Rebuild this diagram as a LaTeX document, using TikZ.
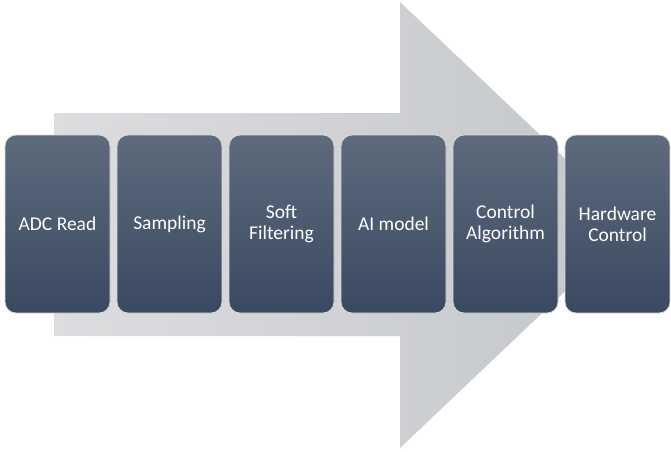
\documentclass[tikz,border=0pt]{standalone}
\usepackage{fontspec}
\setmainfont{Carlito}
\usetikzlibrary{shadings}
\definecolor{boxtop}{HTML}{5D6B7C}
\definecolor{boxbot}{HTML}{3A4961}
\definecolor{arrL}{HTML}{DCDDDF}
\definecolor{arrR}{HTML}{C3C6CA}
\begin{document}
\begin{tikzpicture}[x=1pt,y=-1pt,
  stage/.style={rectangle, rounded corners=11pt, minimum width=105pt, minimum height=178pt,
    top color=boxtop, bottom color=boxbot, draw=white!75!boxtop, line width=0.8pt,
    text=white, font=\fontsize{19.5}{21}\selectfont, align=center, inner sep=2pt}]
\useasboundingbox (0,0) rectangle (671,451);
\shade[left color=arrL, right color=arrR]
  (54,113) -- (400,113) -- (400,2) -- (635,225) -- (400,448) -- (400,336) -- (54,336) -- cycle;
\node[stage] (s1) at (57.5,224) {ADC Read};
\node[stage] (s2) at (169.5,224) {Sampling};
\node[stage] (s3) at (281.5,224) {Soft\\Filtering};
\node[stage] (s4) at (393.5,224) {AI model};
\node[stage] (s5) at (505.5,224) {Control\\Algorithm};
\node[stage] (s6) at (617.5,224) {Hardware\\Control};
\end{tikzpicture}
\end{document}
